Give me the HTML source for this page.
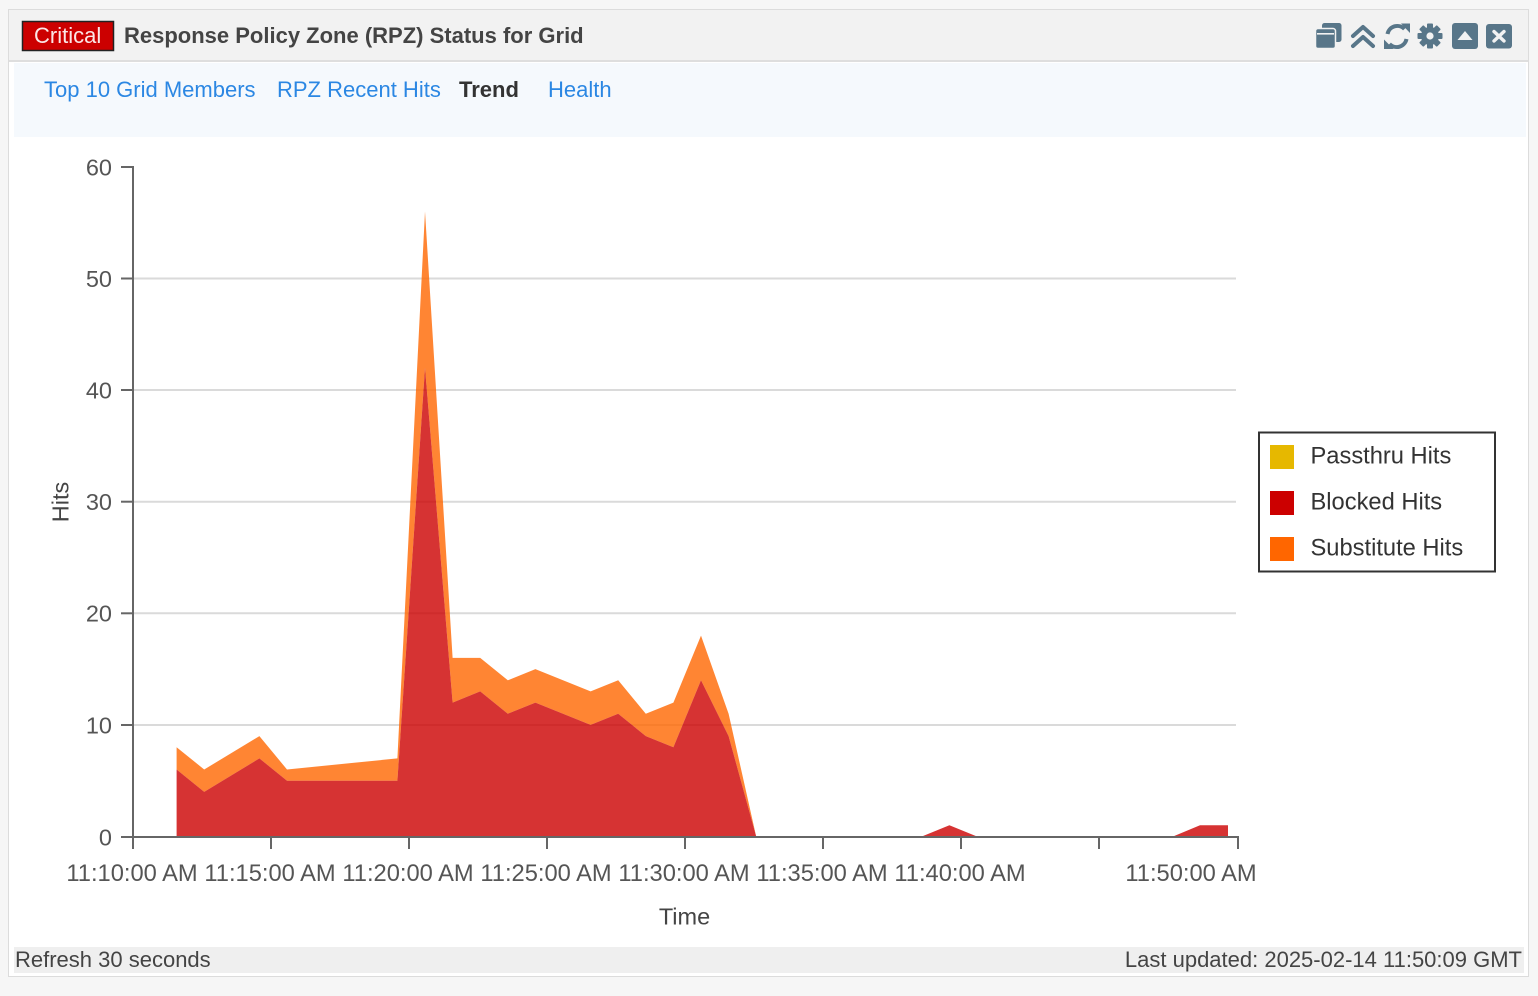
<!DOCTYPE html>
<html>
<head>
<meta charset="utf-8">
<style>
  html, body { margin:0; padding:0; }
  body { width:1538px; height:996px; background:#f6f6f6; overflow:hidden; font-family:"Liberation Sans", Arial, sans-serif; }
  svg { display:block; }
</style>
</head>
<body>
<svg width="1538" height="996" viewBox="0 0 1538 996" xmlns="http://www.w3.org/2000/svg" font-family="Liberation Sans, Arial, sans-serif">
  <!-- page bg -->
  <rect x="0" y="0" width="1538" height="996" fill="#f6f6f6"/>
  <!-- panel -->
  <rect x="8.5" y="9.5" width="1520" height="967" fill="#ffffff" stroke="#dcdcdc" stroke-width="1"/>
  <!-- header -->
  <rect x="9" y="10" width="1519" height="51" fill="#f2f2f2"/>
  <rect x="9" y="60" width="1519" height="2" fill="#dedede"/>
  <!-- badge -->
  <rect x="22.5" y="21.5" width="91" height="29" fill="#cc0000" stroke="#222" stroke-width="1.5"/>
  <text x="34" y="43" font-size="22" fill="#fbe6e6">Critical</text>
  <text x="124" y="43" font-size="22" font-weight="bold" fill="#444">Response Policy Zone (RPZ) Status for Grid</text>

  <!-- header icons -->
  <g fill="#587689">
    <!-- copy -->
    <rect x="1322" y="23" width="19.5" height="19" rx="2.5"/>
    <rect x="1315.5" y="28.5" width="20" height="20" rx="2.5" stroke="#f2f2f2" stroke-width="1.5"/>
    <rect x="1317" y="33" width="17" height="1.6" fill="#f2f2f2"/>
    <!-- double chevron -->
    <g fill="none" stroke="#587689" stroke-width="4" stroke-linecap="round" stroke-linejoin="round">
      <polyline points="1353,36 1363,27 1373,36"/>
      <polyline points="1353,46 1363,37 1373,46"/>
    </g>
    <!-- refresh -->
    <g fill="none" stroke="#587689" stroke-width="4">
      <path d="M1387.5,34 A10,10 0 0 1 1404.5,29"/>
      <path d="M1406.5,39 A10,10 0 0 1 1389.5,44"/>
    </g>
    <polygon points="1401,23.5 1410,23.5 1410,33 "/>
    <polygon points="1384,49 1384,39.5 1393.5,49"/>
    <!-- gear -->
    <g transform="translate(1430,36)">
      <circle r="9" />
      <rect x="-3" y="-12.5" width="6" height="25" rx="1"/>
      <rect x="-3" y="-12.5" width="6" height="25" rx="1" transform="rotate(45)"/>
      <rect x="-3" y="-12.5" width="6" height="25" rx="1" transform="rotate(90)"/>
      <rect x="-3" y="-12.5" width="6" height="25" rx="1" transform="rotate(135)"/>
      <circle r="3.6" fill="#f2f2f2"/>
    </g>
    <!-- collapse -->
    <rect x="1452" y="23" width="26" height="26" rx="3"/>
    <polygon points="1457.5,40 1465,31 1472.5,40" fill="#f2f2f2"/>
    <!-- close -->
    <rect x="1486" y="24" width="26" height="24.5" rx="3"/>
    <g stroke="#f2f2f2" stroke-width="3.4" stroke-linecap="round">
      <line x1="1494" y1="31.5" x2="1504" y2="41"/>
      <line x1="1504" y1="31.5" x2="1494" y2="41"/>
    </g>
  </g>

  <!-- tabs strip -->
  <rect x="14" y="63" width="1512" height="74" fill="#f5f9fd"/>
  <text x="44" y="97" font-size="22" fill="#2b87e3">Top 10 Grid Members</text>
  <text x="277" y="97" font-size="22" fill="#2b87e3">RPZ Recent Hits</text>
  <text x="459" y="97" font-size="22" font-weight="bold" fill="#333">Trend</text>
  <text x="548" y="97" font-size="22" fill="#2b87e3">Health</text>

  <!-- gridlines -->
  <g stroke="#dadada" stroke-width="2">
    <line x1="133" y1="278.5" x2="1236" y2="278.5"/>
    <line x1="133" y1="390" x2="1236" y2="390"/>
    <line x1="133" y1="501.7" x2="1236" y2="501.7"/>
    <line x1="133" y1="613.3" x2="1236" y2="613.3"/>
    <line x1="133" y1="725" x2="1236" y2="725"/>
  </g>

  <!-- areas: substitute (stacked on blocked) -->
  <path fill="#ff6600" fill-opacity="0.8" d="
    M176.6,747.2 L204.2,769.5 L259.4,736.1 L287,769.5 L397.4,758.4 L425,211.5 L452.6,657.9 L480.2,657.9
    L507.8,680.3 L535.4,669.1 L590.6,691.4 L618.2,680.3 L645.8,713.7 L673.4,702.6 L701,635.6 L728.6,713.7 L756.2,836.5
    L728.6,736.1 L701,680.3 L673.4,747.2 L645.8,736.1 L618.2,713.7 L590.6,724.9 L535.4,702.6 L507.8,713.7
    L480.2,691.4 L452.6,702.6 L425,367.8 L397.4,780.7 L287,780.7 L259.4,758.4 L204.2,791.9 L176.6,769.5 Z"/>
  <!-- blocked -->
  <path fill="#cc0000" fill-opacity="0.8" d="
    M176.6,836.5 L176.6,769.5 L204.2,791.9 L259.4,758.4 L287,780.7 L397.4,780.7 L425,367.8 L452.6,702.6
    L480.2,691.4 L507.8,713.7 L535.4,702.6 L590.6,724.9 L618.2,713.7 L645.8,736.1 L673.4,747.2 L701,680.3
    L728.6,736.1 L756.2,836.5 Z"/>
  <path fill="#cc0000" fill-opacity="0.8" d="M921.8,836.5 L949.4,825.3 L977,836.5 Z"/>
  <path fill="#cc0000" fill-opacity="0.8" d="M1173,836.5 L1200,825.3 L1228,825.3 L1228,836.5 Z"/>

  <!-- axes -->
  <g stroke="#666" stroke-width="2" fill="none">
    <path d="M121,167 H133 V837 H121"/>
    <line x1="121" y1="278.5" x2="133" y2="278.5"/>
    <line x1="121" y1="390" x2="133" y2="390"/>
    <line x1="121" y1="501.7" x2="133" y2="501.7"/>
    <line x1="121" y1="613.3" x2="133" y2="613.3"/>
    <line x1="121" y1="725" x2="133" y2="725"/>
    <path d="M133,849 V837 H1238 V849"/>
    <line x1="271" y1="837" x2="271" y2="849"/>
    <line x1="409" y1="837" x2="409" y2="849"/>
    <line x1="547" y1="837" x2="547" y2="849"/>
    <line x1="685" y1="837" x2="685" y2="849"/>
    <line x1="823" y1="837" x2="823" y2="849"/>
    <line x1="961" y1="837" x2="961" y2="849"/>
    <line x1="1099" y1="837" x2="1099" y2="849"/>
  </g>

  <!-- y tick labels -->
  <g font-size="23.5" fill="#555" text-anchor="end">
    <text x="112" y="175.4">60</text>
    <text x="112" y="286.9">50</text>
    <text x="112" y="398.4">40</text>
    <text x="112" y="510.1">30</text>
    <text x="112" y="621.7">20</text>
    <text x="112" y="733.4">10</text>
    <text x="112" y="845.4">0</text>
  </g>
  <!-- x tick labels -->
  <g font-size="23.7" fill="#555" text-anchor="middle">
    <text x="132" y="881.2">11:10:00 AM</text>
    <text x="270" y="881.2">11:15:00 AM</text>
    <text x="408" y="881.2">11:20:00 AM</text>
    <text x="546" y="881.2">11:25:00 AM</text>
    <text x="684" y="881.2">11:30:00 AM</text>
    <text x="822" y="881.2">11:35:00 AM</text>
    <text x="960" y="881.2">11:40:00 AM</text>
    <text x="1191" y="881.2">11:50:00 AM</text>
  </g>
  <!-- axis titles -->
  <text x="684.5" y="924.5" font-size="23.5" fill="#444" text-anchor="middle">Time</text>
  <text transform="translate(68.5,502) rotate(-90)" font-size="23.5" fill="#444" text-anchor="middle">Hits</text>

  <!-- legend -->
  <rect x="1259" y="432.5" width="236" height="139" fill="#fff" stroke="#333" stroke-width="2"/>
  <rect x="1270" y="445" width="24" height="24" fill="#e6b800"/>
  <rect x="1270" y="491" width="24" height="24" fill="#cc0000"/>
  <rect x="1270" y="537" width="24" height="24" fill="#ff6600"/>
  <g font-size="23.7" fill="#333">
    <text x="1310.5" y="463.3">Passthru Hits</text>
    <text x="1310.5" y="509.3">Blocked Hits</text>
    <text x="1310.5" y="555.3">Substitute Hits</text>
  </g>

  <!-- footer -->
  <rect x="14" y="947" width="1510" height="26" fill="#efefef"/>
  <text x="15" y="967" font-size="22" fill="#444">Refresh 30 seconds</text>
  <text x="1522" y="967" font-size="22" fill="#444" text-anchor="end">Last updated: 2025-02-14 11:50:09 GMT</text>
</svg>
</body>
</html>
